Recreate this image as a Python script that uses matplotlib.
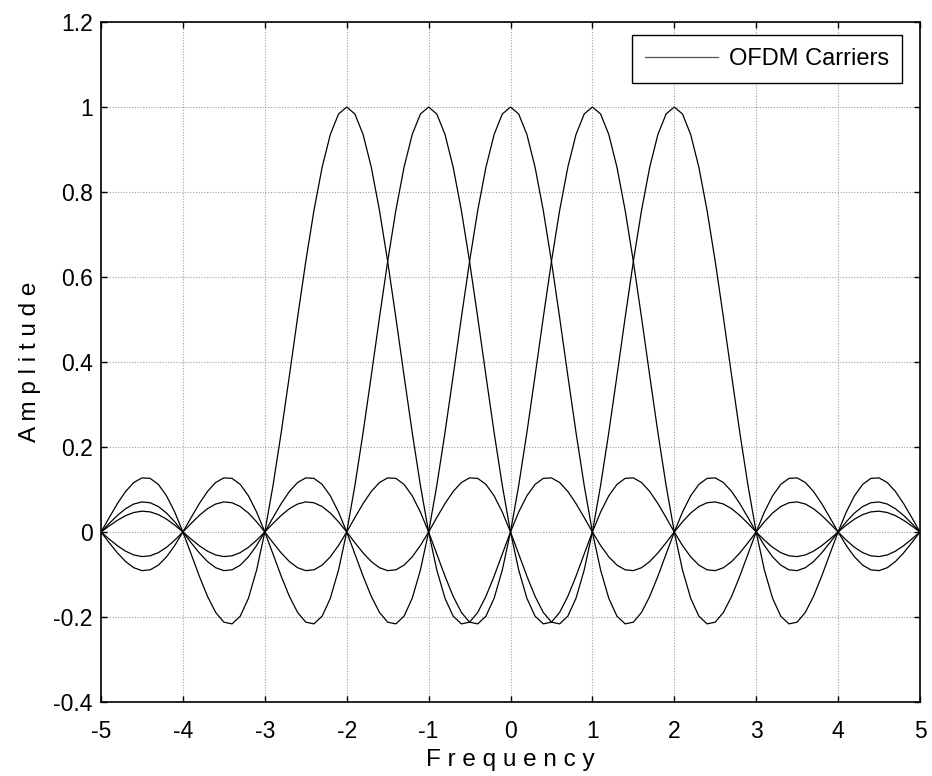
import numpy as np
import matplotlib
matplotlib.use("Agg")
import matplotlib.pyplot as plt

# carrier centre frequencies
centers = [-2, -1, 0, 1, 2]

# pulse shape of one carrier, sampled every 0.1 from its centre outward (0 .. 7.0)
pulse_step = 0.1
pulse_half = [
    1.0, 0.98363, 0.93549, 0.85839, 0.75683, 0.63662, 0.50455, 0.36788, 0.23387, 0.10929,
    0.0, -0.08942, -0.15592, -0.19809, -0.21624, -0.21221, -0.18921, -0.15148, -0.10394, -0.05177,
    0.0, 0.04684, 0.08504, 0.11196, 0.12614, 0.12732, 0.11643, 0.09538, 0.06682, 0.03392,
    0.0, -0.03173, -0.05847, -0.07804, -0.08904, -0.09095, -0.08409, -0.06960, -0.04924, -0.02522,
    0.0, 0.02399, 0.04455, 0.05989, 0.06880, 0.07074, 0.06581, 0.05479, 0.03898, 0.02007,
    0.0, -0.01929, -0.03598, -0.04859, -0.05606, -0.05787, -0.05406, -0.04518, -0.03226, -0.01667,
    0.0, 0.01613, 0.03018, 0.04088, 0.04730, 0.04897, 0.04587, 0.03844, 0.02751, 0.01426,
    0.0,
]

x_ticks = [-5, -4, -3, -2, -1, 0, 1, 2, 3, 4, 5]
y_ticks = [-0.4, -0.2, 0, 0.2, 0.4, 0.6, 0.8, 1, 1.2]
y_labels = ["-0.4", "-0.2", "0", "0.2", "0.4", "0.6", "0.8", "1", "1.2"]

plt.rcParams["font.family"] = ["Liberation Sans", "DejaVu Sans"]
FS = 16.5

fig = plt.figure(figsize=(9.32, 7.76), dpi=100)
ax = fig.add_axes([0.1084, 0.0954, 0.8787, 0.8762])

half = np.array(pulse_half)
pulse = np.concatenate([half[:0:-1], half])       # symmetric pulse, -7 .. 7
n_half = len(half) - 1
offsets = (np.arange(len(pulse)) - n_half) * pulse_step

for i, c in enumerate(centers):
    xs = offsets + c
    keep = (xs >= -5 - 1e-9) & (xs <= 5 + 1e-9)
    ax.plot(xs[keep], pulse[keep], color="black", lw=0.9,
            label="OFDM Carriers" if i == 0 else None)

ax.set_xlim(-5, 5)
ax.set_ylim(-0.4, 1.2)
ax.set_xticks(x_ticks)
ax.set_xticklabels([str(t) for t in x_ticks])
ax.set_yticks(y_ticks)
ax.set_yticklabels(y_labels)
ax.tick_params(direction="in", top=True, right=True, labelsize=FS, length=4, width=1)
ax.tick_params(axis="x", pad=13)
ax.tick_params(axis="y", pad=6)
ax.grid(True, color="#a0a0a0", linestyle=(0, (1, 1.5)), linewidth=0.8)
for s in ax.spines.values():
    s.set_linewidth(1.2)

ax.set_xlabel(" ".join("Frequency"), fontsize=17.5, labelpad=4)
ax.set_ylabel(" ".join("Amplitude"), fontsize=17.5, labelpad=9)

leg = ax.legend(loc="upper right", fontsize=17, fancybox=False, framealpha=1,
                edgecolor="black", handlelength=3.1, handletextpad=0.45,
                borderpad=0.55, borderaxespad=0,
                bbox_to_anchor=(0.978, 0.981))
leg.get_frame().set_linewidth(1.0)
leg.get_lines()[0].set_color("#555555")

fig.savefig("out.png", dpi=100)
